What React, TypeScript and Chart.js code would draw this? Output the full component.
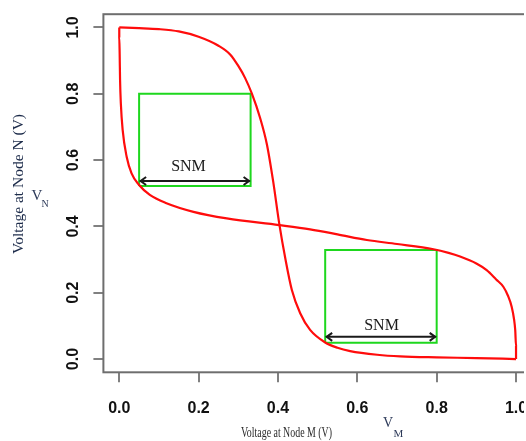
import React, { useEffect, useRef } from "react";
import { Chart, registerables } from "chart.js";

Chart.register(...registerables);

// Butterfly curve, inverter 1: V_N as a function of V_M
const curve1M = [0, 0.05, 0.1, 0.15, 0.2, 0.25, 0.28, 0.3, 0.317, 0.334, 0.355, 0.372, 0.388, 0.403, 0.419, 0.435, 0.456, 0.481, 0.519, 0.55, 0.582, 0.65, 0.708, 0.8, 0.9, 1.0];
const curve1N = [1.0, 0.998, 0.995, 0.988, 0.972, 0.945, 0.918, 0.884, 0.848, 0.801, 0.727, 0.648, 0.535, 0.41, 0.3, 0.208, 0.138, 0.088, 0.05, 0.034, 0.024, 0.013, 0.008, 0.005, 0.003, 0.0];

// Inverter 2: V_M as a function of V_N (mirrored curve)
const curve2M = [0, 0.0, 0.001, 0.002, 0.004, 0.0085, 0.0186, 0.031, 0.05, 0.077, 0.119, 0.187, 0.271, 0.403, 0.481, 0.55, 0.624, 0.7, 0.792, 0.83, 0.859, 0.9, 0.926, 0.95, 0.968, 0.98, 0.989, 0.995, 0.998, 1.0, 1.0];
const curve2N = [1.0, 0.97, 0.92, 0.842, 0.77, 0.691, 0.61, 0.56, 0.525, 0.495, 0.47, 0.444, 0.424, 0.404, 0.391, 0.376, 0.359, 0.347, 0.331, 0.32, 0.309, 0.288, 0.268, 0.24, 0.218, 0.19, 0.158, 0.12, 0.087, 0.04, 0.0];

// SNM squares
const box1M = [0.05, 0.331, 0.331, 0.05, 0.05];
const box1N = [0.522, 0.522, 0.8, 0.8, 0.522];
const box2M = [0.519, 0.8, 0.8, 0.519, 0.519];
const box2N = [0.049, 0.049, 0.329, 0.329, 0.049];

// SNM arrows: [start M, end M] and their N level
const arrowStartM = [0.05, 0.519];
const arrowEndM = [0.331, 0.8];
const arrowN = [0.537, 0.067];

// SNM labels
const snmLabelText = ["SNM", "SNM"];
const snmLabelM = [0.1745, 0.661];
const snmLabelN = [0.585, 0.1056];

const axisMin = -0.04;
const axisMax = 1.04;
const tickStep = 0.2;

const xTitle = "Voltage at Node M (V)";
const yTitle = "Voltage at Node N (V)";

const toPoints = (xs: number[], ys: number[]) => xs.map((v, i) => ({ x: v, y: ys[i] }));

const overlayPlugin = {
  id: "overlay",
  afterDatasetsDraw(chart: any) {
    const { ctx, scales } = chart;
    const x = scales.x;
    const y = scales.y;
    ctx.save();
    // arrows
    ctx.strokeStyle = "#1a1a1a";
    ctx.lineWidth = 2;
    ctx.lineCap = "butt";
    ctx.lineJoin = "miter";
    for (let i = 0; i < arrowN.length; i++) {
      const xa = x.getPixelForValue(arrowStartM[i]);
      const xb = x.getPixelForValue(arrowEndM[i]);
      const yy = y.getPixelForValue(arrowN[i]);
      ctx.beginPath();
      ctx.moveTo(xa + 1, yy);
      ctx.lineTo(xb - 1, yy);
      ctx.stroke();
      ctx.beginPath();
      ctx.moveTo(xa + 7, yy - 4);
      ctx.lineTo(xa + 1.5, yy);
      ctx.lineTo(xa + 7, yy + 4);
      ctx.moveTo(xb - 7, yy - 4);
      ctx.lineTo(xb - 1.5, yy);
      ctx.lineTo(xb - 7, yy + 4);
      ctx.stroke();
    }
    // labels
    ctx.fillStyle = "#1a1a1a";
    ctx.font = '16px "Liberation Serif"';
    ctx.textAlign = "center";
    ctx.textBaseline = "alphabetic";
    for (let i = 0; i < snmLabelText.length; i++) {
      ctx.fillText(snmLabelText[i], x.getPixelForValue(snmLabelM[i]), y.getPixelForValue(snmLabelN[i]) + 5.5);
    }
    ctx.restore();
  },
  afterDraw(chart: any) {
    const { ctx, chartArea: a } = chart;
    ctx.save();
    // frame
    ctx.strokeStyle = "#6e6e6e";
    ctx.lineWidth = 2;
    ctx.strokeRect(a.left, a.top, a.right - a.left, a.bottom - a.top);

    // y title
    ctx.fillStyle = "#1b2a49";
    ctx.font = '15.5px "Liberation Serif"';
    ctx.textAlign = "center";
    ctx.textBaseline = "middle";
    ctx.save();
    ctx.translate(18.5, 184);
    ctx.rotate(-Math.PI / 2);
    ctx.fillText(yTitle, 0, 0);
    ctx.restore();

    // V_N
    ctx.fillStyle = "#2e3b5a";
    ctx.textAlign = "left";
    ctx.textBaseline = "alphabetic";
    ctx.font = '15px "Liberation Serif"';
    ctx.fillText("V", 31.5, 199.5);
    ctx.font = '10px "Liberation Serif"';
    ctx.fillText("N", 41.5, 206.5);

    // x title
    ctx.fillStyle = "#2a2a2a";
    ctx.font = '15.5px "Liberation Serif"';
    const w = ctx.measureText(xTitle).width;
    ctx.save();
    ctx.translate(241, 437);
    ctx.scale(91 / w, 1);
    ctx.fillText(xTitle, 0, 0);
    ctx.restore();

    // V_M
    ctx.fillStyle = "#2e3b5a";
    ctx.font = '14px "Liberation Serif"';
    ctx.fillText("V", 383, 427);
    ctx.font = '11px "Liberation Serif"';
    ctx.fillText("M", 393.5, 436.5);
    ctx.restore();
  },
};

export default function App() {
  const ref = useRef<HTMLCanvasElement | null>(null);

  useEffect(() => {
    if (!ref.current) return;
    const red = "rgb(255, 12, 12)";
    const green = "rgb(30, 215, 30)";
    const lineDs = (data: any[], color: string, width: number, mono: boolean) => ({
      data,
      showLine: true,
      borderColor: color,
      backgroundColor: color,
      borderWidth: width,
      pointRadius: 0,
      pointHoverRadius: 0,
      tension: mono ? 0.4 : 0,
      cubicInterpolationMode: mono ? "monotone" : "default",
      fill: false,
    });
    const tickFont = { family: '"Liberation Sans", Arial, sans-serif', size: 16, weight: "bold" as const };
    const gridOpts = {
      display: true,
      drawOnChartArea: false,
      drawTicks: true,
      tickLength: 10,
      color: "#808080",
      lineWidth: 2,
    };
    const chart = new Chart(ref.current, {
      type: "scatter",
      data: {
        datasets: [
          lineDs(toPoints(curve1M, curve1N), red, 2.2, true),
          lineDs(toPoints(curve2M, curve2N), red, 2.2, true),
          lineDs(toPoints(box1M, box1N), green, 2, false),
          lineDs(toPoints(box2M, box2N), green, 2, false),
        ],
      },
      options: {
        responsive: false,
        animation: false,
        devicePixelRatio: 1,
        layout: { padding: { left: 0, right: 8.1, top: 14.2, bottom: 0 } },
        plugins: { legend: { display: false }, tooltip: { enabled: false } },
        events: [],
        scales: {
          x: {
            type: "linear",
            min: axisMin,
            max: axisMax,
            grid: gridOpts,
            border: { display: false },
            ticks: {
              stepSize: tickStep,
              includeBounds: false,
              font: tickFont,
              color: "#111",
              padding: 17,
              maxRotation: 0,
              minRotation: 0,
              callback: (v: any) => Number(v).toFixed(1),
            },
            afterFit: (s: any) => {
              s.height = 68.7;
              s.paddingLeft = 0;
              s.paddingRight = 0;
            },
          },
          y: {
            type: "linear",
            min: axisMin,
            max: axisMax,
            grid: gridOpts,
            border: { display: false },
            ticks: {
              stepSize: tickStep,
              includeBounds: false,
              font: tickFont,
              color: "#111",
              padding: 9,
              minRotation: 90,
              maxRotation: 90,
              crossAlign: "center",
              callback: (v: any) => Number(v).toFixed(1),
            },
            afterFit: (s: any) => {
              s.width = 103.4;
              s.paddingTop = 0;
              s.paddingBottom = 0;
            },
          },
        },
      },
      plugins: [overlayPlugin],
    } as any);
    return () => chart.destroy();
  }, []);

  return (
    <div
      style={{
        position: "fixed",
        left: 0,
        top: 0,
        width: 524,
        height: 441,
        overflow: "hidden",
        background: "#fff",
      }}
    >
      <canvas ref={ref} width={540} height={441} style={{ display: "block" }} />
    </div>
  );
}
